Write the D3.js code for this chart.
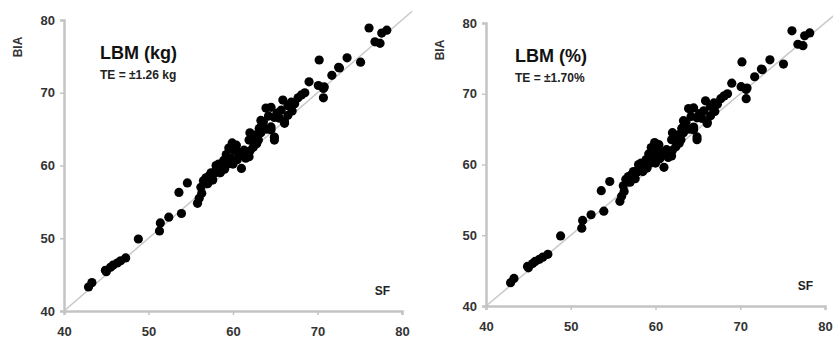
<!DOCTYPE html>
<html>
<head>
<meta charset="utf-8">
<script src="https://cdn.jsdelivr.net/npm/d3@7"></script>
<style>
  body { margin: 0; background: #fff; }
  svg { display: block; font-family: "Liberation Sans", Arial, sans-serif; }
</style>
</head>
<body>
<svg id="chart" width="833" height="343"></svg>
<script>
// SF (x) vs BIA (y) -- both panels show the same scatter
const sfValues = [
  42.9, 43.3, 44.9, 45.0, 45.5, 45.8, 46.3, 46.7, 47.3, 48.8,
  51.3, 51.4, 52.4, 53.9, 53.6, 54.6, 55.8, 56.0, 56.3, 56.5,
  56.8, 57.4, 57.2, 58.0, 57.8, 58.6, 58.3, 59.2, 59.5, 58.9,
  59.8, 59.5, 59.9, 60.1, 60.4, 61.0, 61.3, 61.0, 61.9, 62.4,
  61.9, 62.4, 62.7, 63.3, 63.1, 63.3, 63.6, 63.3, 64.5, 64.9,
  64.9, 64.5, 66.1, 66.1, 64.9, 66.5, 65.7, 63.9, 64.5, 65.9,
  66.9, 67.7, 68.1, 69.0, 70.1, 70.7, 70.7, 70.2, 71.7, 72.5,
  72.6, 73.5, 75.1, 76.1, 78.2, 77.6, 76.8, 77.4, 70.8, 57.0,
  56.2, 60.5, 62.0, 58.5, 65.5, 67.0, 68.5, 59.0, 60.0, 64.0,
  57.6, 61.5, 62.0, 63.0, 64.2, 65.2, 66.5, 67.3, 60.6, 59.2,
  58.0, 62.8
];
const biaValues = [
  43.3, 43.9, 45.6, 45.4, 46.0, 46.3, 46.6, 46.9, 47.3, 49.9,
  51.0, 52.1, 52.9, 53.4, 56.3, 57.6, 54.8, 55.5, 56.2, 57.9,
  58.3, 59.0, 58.6, 59.4, 58.9, 59.6, 60.2, 60.1, 60.3, 60.7,
  61.0, 62.4, 63.1, 62.1, 62.8, 61.4, 62.1, 59.6, 61.2, 62.5,
  63.5, 63.5, 64.2, 64.5, 65.1, 65.3, 66.0, 66.2, 64.9, 63.5,
  63.9, 65.3, 65.8, 66.0, 66.6, 66.9, 67.6, 67.9, 68.0, 69.0,
  68.7, 69.3, 69.7, 71.5, 71.0, 70.6, 69.3, 74.5, 72.4, 73.5,
  73.4, 74.8, 74.2, 78.9, 78.6, 78.2, 77.0, 76.8, 70.8, 57.5,
  57.0, 60.8, 62.0, 59.0, 66.5, 67.5, 70.0, 59.5, 60.2, 65.0,
  58.0, 61.0, 64.5, 63.5, 66.8, 67.2, 68.2, 68.5, 61.8, 61.5,
  60.0, 63.0
];
const tickValues = [40, 50, 60, 70, 80];
const panelTitles = ['LBM (kg)', 'LBM (%)'];
const panelErrors = ['TE = \u00b11.26 kg', 'TE = \u00b11.70%'];
const xAxisName = 'SF';
const yAxisName = 'BIA';

const svg = d3.select('#chart');
const axisColor = '#c4c4c4';

const panels = [
  {left: 64, right: 402, top: 20, bottom: 311, labelX: 18, titleX: 100},
  {left: 486, right: 825, top: 23, bottom: 306, labelX: 440, titleX: 515}
];

panels.forEach(function (p, i) {
  const x = d3.scaleLinear().domain([40, 80]).range([p.left, p.right]);
  const y = d3.scaleLinear().domain([40, 80]).range([p.bottom, p.top]);
  const g = svg.append('g');

  // identity line
  g.append('line')
    .attr('x1', x(40)).attr('y1', y(40))
    .attr('x2', x(81.2)).attr('y2', y(81.2))
    .attr('stroke', '#c8c8c8').attr('stroke-width', 1.5);

  const xAxis = g.append('g')
    .attr('transform', 'translate(0,' + p.bottom + ')')
    .call(d3.axisBottom(x).tickValues(tickValues).tickSize(4).tickPadding(12));
  const yAxis = g.append('g')
    .attr('transform', 'translate(' + p.left + ',0)')
    .call(d3.axisLeft(y).tickValues(tickValues).tickSize(4).tickPadding(5));

  [xAxis, yAxis].forEach(function (a) {
    a.select('.domain').attr('stroke', axisColor).attr('stroke-width', 2.5);
    a.selectAll('.tick line').attr('stroke', axisColor).attr('stroke-width', 1.5);
    a.selectAll('.tick text')
      .attr('fill', '#333')
      .attr('font-size', 13)
      .attr('font-weight', 'bold')
      .attr('font-family', '"Liberation Sans", Arial, sans-serif');
  });

  g.selectAll('circle')
    .data(sfValues.map(function (v, k) { return [v, biaValues[k]]; }))
    .enter().append('circle')
    .attr('cx', function (d) { return x(d[0]); })
    .attr('cy', function (d) { return y(d[1]); })
    .attr('r', 4.6)
    .attr('fill', '#000');

  g.append('text')
    .attr('x', p.titleX).attr('y', p.top + 39)
    .attr('font-size', 18).attr('font-weight', 'bold')
    .attr('fill', '#111')
    .text(panelTitles[i]);

  g.append('text')
    .attr('x', p.titleX).attr('y', p.top + 59)
    .attr('font-size', 12).attr('font-weight', 'bold')
    .attr('fill', '#222')
    .text(panelErrors[i]);

  g.append('text')
    .attr('x', x(80) - 12).attr('y', p.bottom - 16)
    .attr('text-anchor', 'end')
    .attr('font-size', 12).attr('font-weight', 'bold')
    .attr('fill', '#222')
    .text(xAxisName);

  g.append('text')
    .attr('transform', 'translate(' + (p.labelX + 4) + ',' + (p.top + 27) + ') rotate(-90)')
    .attr('text-anchor', 'middle')
    .attr('font-size', 12).attr('font-weight', 'bold')
    .attr('fill', '#333')
    .text(yAxisName);
});
</script>
</body>
</html>
